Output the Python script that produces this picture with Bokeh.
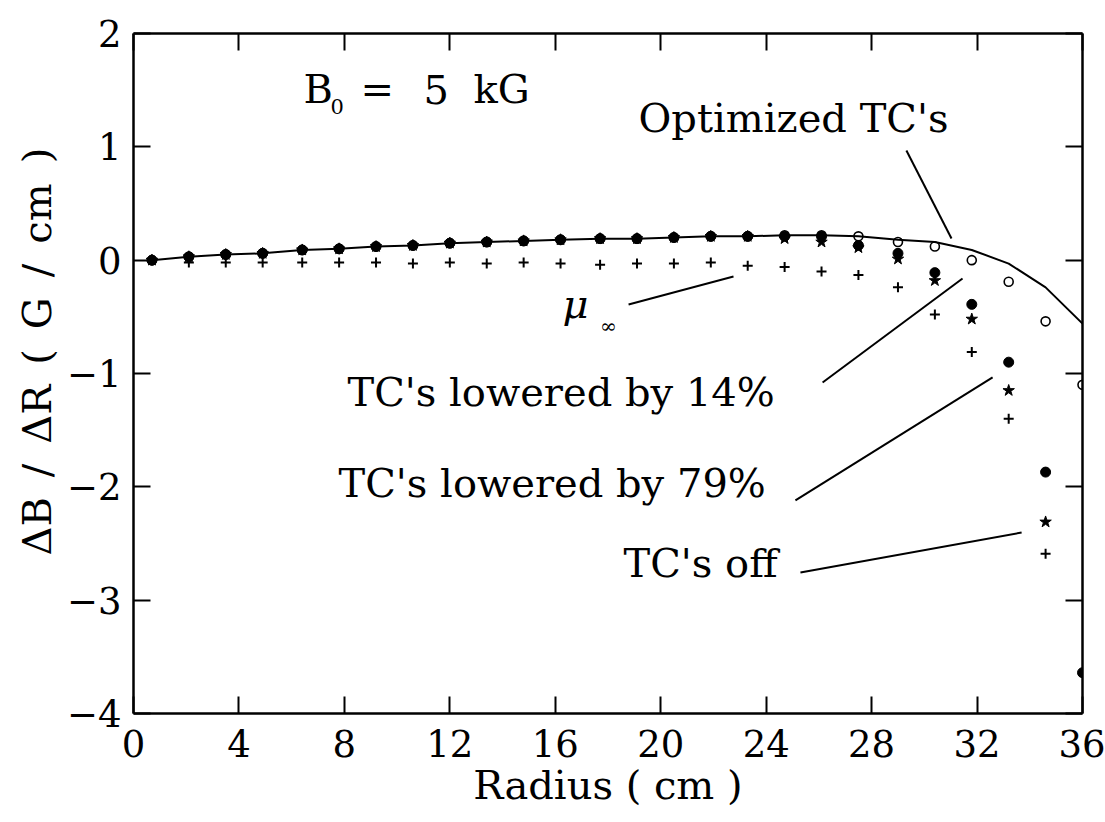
from bokeh.plotting import figure
from bokeh.models import LinearAxis, FixedTicker, Label, Range1d, CustomJSTickFormatter, Title
from bokeh.embed import file_html
from bokeh.resources import INLINE

nan = float("nan")

# Radial positions of the field samples (cm)
radius = [0.7, 2.1, 3.5, 4.9, 6.4, 7.8, 9.2, 10.6, 12.0, 13.4, 14.8, 16.2, 17.7,
          19.1, 20.5, 21.9, 23.3, 24.7, 26.1, 27.5, 29.0, 30.4, 31.8, 33.2, 34.6, 36.0]

# dB/dR (G/cm) for each trim-coil setting
optimized = [0.00, 0.03, 0.05, 0.06, 0.09, 0.10, 0.12, 0.13, 0.15, 0.16, 0.17, 0.18, 0.19,
             0.19, 0.20, 0.21, 0.21, 0.22, 0.22, 0.21, 0.18, 0.16, 0.09, -0.03, -0.24, -0.56]
lowered_14 = [0.00, 0.03, 0.05, 0.06, 0.09, 0.10, 0.12, 0.13, 0.15, 0.16, 0.17, 0.18, 0.19,
              0.19, 0.20, 0.21, 0.21, 0.22, 0.22, 0.21, 0.16, 0.12, 0.00, -0.19, -0.54, -1.10]
lowered_79 = [0.00, 0.03, 0.05, 0.06, 0.09, 0.10, 0.12, 0.13, 0.15, 0.16, 0.17, 0.18, 0.19,
              0.19, 0.20, 0.21, 0.21, 0.21, 0.21, 0.13, 0.06, -0.11, -0.39, -0.90, -1.87, -3.64]
tc_off = [0.00, 0.03, 0.05, 0.06, 0.09, 0.10, 0.12, 0.13, 0.15, 0.16, 0.17, 0.18, 0.19,
          0.19, 0.20, 0.21, 0.21, 0.19, 0.16, 0.11, 0.01, -0.18, -0.52, -1.15, -2.31, nan]
mu_inf = [0.00, -0.02, -0.02, -0.02, -0.02, -0.02, -0.02, -0.03, -0.02, -0.03, -0.02, -0.03, -0.04,
          -0.03, -0.03, -0.02, -0.05, -0.06, -0.10, -0.13, -0.24, -0.48, -0.81, -1.40, -2.59, nan]

x_ticks = [0, 4, 8, 12, 16, 20, 24, 28, 32, 36]
y_ticks = [-4, -3, -2, -1, 0, 1, 2]
y_tick_text = {-4: "\u22124", -3: "\u22123", -2: "\u22122", -1: "\u22121", 0: "0", 1: "1", 2: "2"}

FONT = "DejaVu Serif"
TICK_FS = "37px"
TEXT_FS = "40px"

p = figure(width=1105, height=822, x_range=Range1d(0, 36), y_range=Range1d(-4, 2),
           x_axis_type=None, y_axis_type=None,
           output_backend="svg", toolbar_location=None,
           min_border_left=133, min_border_right=23, min_border_top=33, min_border_bottom=109)
p.outline_line_color = None
p.background_fill_color = "white"
p.border_fill_color = "white"

bottom_axis = LinearAxis(ticker=FixedTicker(ticks=x_ticks, minor_ticks=[]))
top_axis = LinearAxis(ticker=FixedTicker(ticks=x_ticks, minor_ticks=[]))
left_axis = LinearAxis(ticker=FixedTicker(ticks=y_ticks, minor_ticks=[]))
right_axis = LinearAxis(ticker=FixedTicker(ticks=y_ticks, minor_ticks=[]))
p.add_layout(bottom_axis, "below")
p.add_layout(left_axis, "left")
p.add_layout(top_axis, "above")
p.add_layout(right_axis, "right")

for ax in [bottom_axis, left_axis, top_axis, right_axis]:
    ax.axis_line_width = 2.5
    ax.axis_line_color = "black"
    ax.major_tick_in = 17
    ax.major_tick_out = 0
    ax.major_tick_line_width = 2
    ax.major_tick_line_color = "black"
    ax.minor_tick_line_color = None
    ax.major_label_text_font = FONT
    ax.major_label_text_font_size = TICK_FS
    ax.major_label_text_color = "black"
    ax.axis_label_text_font = FONT
    ax.axis_label_text_font_size = TEXT_FS
    ax.axis_label_text_font_style = "normal"
    ax.axis_label_text_color = "black"

# Tick marks only on the top and right edges of the box
for ax in [top_axis, right_axis]:
    ax.formatter = CustomJSTickFormatter(code="return ''")
    ax.major_label_standoff = 0

bottom_axis.axis_label = "Radius ( cm )"
bottom_axis.major_label_standoff = 16
bottom_axis.axis_label_standoff = 2

left_axis.major_label_overrides = y_tick_text
left_axis.major_label_standoff = 12

# Vertical axis title, outside the left tick labels, starting above the frame bottom
y_title = Title(text="\u0394B\u2002/\u2002\u0394R\u2002(\u2002G\u2002/\u2002cm\u2002)",
                align="left", offset=158, standoff=8,
                text_font=FONT, text_font_size=TEXT_FS, text_font_style="normal",
                text_color="black")
p.add_layout(y_title, "left")

# Curves and measured points
p.line(radius, optimized, line_color="black", line_width=2)
p.scatter(radius, lowered_14, marker="circle", size=9, fill_color=None,
          line_color="black", line_width=1.6)
p.scatter(radius, lowered_79, marker="circle", size=10, fill_color="black", line_color="black")
p.scatter(radius, tc_off, marker="star", size=12, fill_color="black", line_color="black")
p.scatter(radius, mu_inf, marker="cross", size=10, line_color="black", line_width=2)

# Annotation leaders
lead_x0 = [29.32, 18.78, 26.14, 25.11, 25.30]
lead_y0 = [0.968, -0.391, -1.079, -2.120, -2.756]
lead_x1 = [31.03, 22.76, 31.45, 32.59, 33.69]
lead_y1 = [0.191, -0.144, -0.162, -1.035, -2.403]
p.segment(lead_x0, lead_y0, lead_x1, lead_y1, line_color="black", line_width=2)


def add_text(x, y, text, size=TEXT_FS, style="normal", baseline="alphabetic"):
    p.add_layout(Label(x=x, y=y, text=text, text_font=FONT, text_font_size=size,
                       text_font_style=style, text_color="black",
                       text_baseline=baseline, text_align="left"))


add_text(6.45, 1.51, "B")
add_text(7.47, 1.36, "0", size="21px")
add_text(8.61, 1.51, "=")
add_text(11.0, 1.51, "5")
add_text(12.9, 1.51, "kG")
add_text(19.16, 1.255, "Optimized TC's")
add_text(16.27, -0.39, "\u03bc", style="italic")
add_text(17.7, -0.585, "\u221e", size="20px", baseline="middle")
add_text(8.12, -1.16, "TC's lowered by 14%")
add_text(7.78, -1.97, "TC's lowered by 79%")
add_text(18.59, -2.67, "TC's off")

open("out.html", "w").write(file_html(p, INLINE))
